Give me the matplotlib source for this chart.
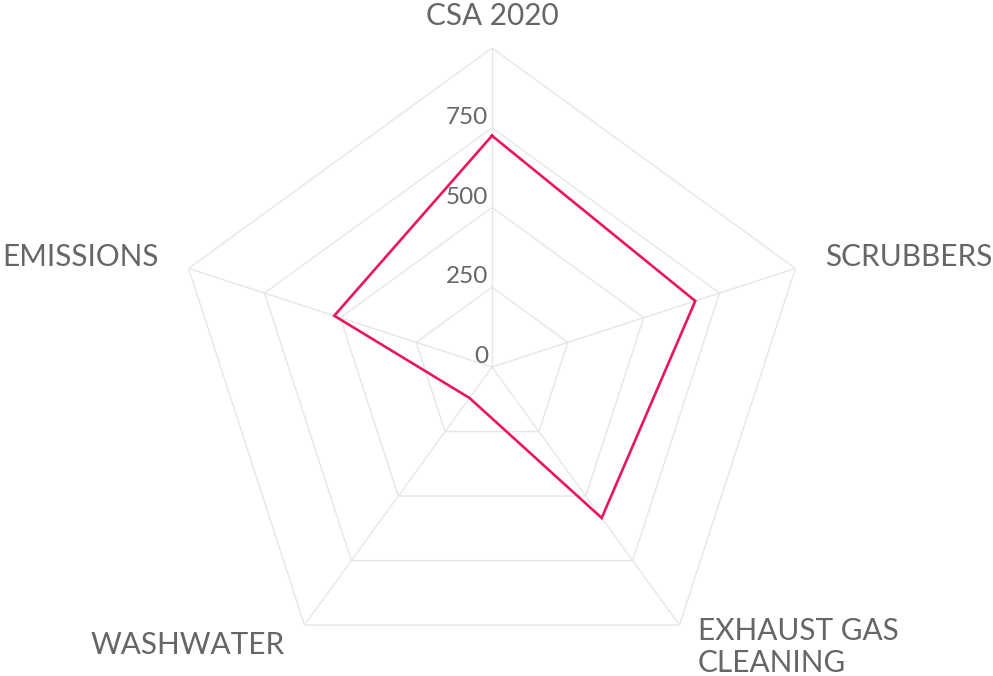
import numpy as np
import matplotlib
matplotlib.use("Agg")
import matplotlib.pyplot as plt

plt.rcParams["font.family"] = ["Lato", "DejaVu Sans"]

# ---- data ----
categories = ["CSA 2020", "SCRUBBERS", "EXHAUST GAS\nCLEANING", "WASHWATER", "EMISSIONS"]
values = [725, 670, 585, 120, 520]
ticks = [0, 250, 500, 750, 1000]
tick_labels = ["0", "250", "500", "750"]

GRID = "#e6e6e6"
LINE = "#e8175d"
TEXT = "#666666"

W, H = 993, 676
fig = plt.figure(figsize=(W / 100, H / 100), dpi=100)
cx, cy, R = 492, 367, 319
ax = fig.add_axes([(cx - R) / W, (H - cy - R) / H, 2 * R / W, 2 * R / H], projection="polar")
ax.set_theta_zero_location("N")
ax.set_theta_direction(-1)
ax.set_ylim(0, ticks[-1])
ax.axis("off")

n = len(categories)
theta = np.linspace(0, 2 * np.pi, n, endpoint=False)
closed = np.append(theta, theta[0])

# pentagon rings + spokes
for t in ticks[1:]:
    ax.plot(closed, [t] * (n + 1), color=GRID, lw=1.0, zorder=1)
for th in theta:
    ax.plot([th, th], [0, ticks[-1]], color=GRID, lw=1.0, zorder=1)

# data
ax.plot(closed, values + values[:1], color=LINE, lw=1.9, zorder=3, solid_joinstyle="miter")

# tick labels along the top spoke
for t, lab in zip(ticks, tick_labels):
    ax.annotate(lab, xy=(0, t), xytext=(-4, 4), textcoords="offset pixels",
                ha="right", va="baseline", fontsize=17.5, color=TEXT)

# category labels
offsets = [((0, 32), "center", "center"),
           ((30, 11), "left", "center"),
           ((18, 8), "left", "top"),
           ((-20, -20), "right", "center"),
           ((-30, 11), "right", "center")]
for th, lab, (off, ha, va) in zip(theta, categories, offsets):
    ax.annotate(lab, xy=(th, ticks[-1]), xytext=off, textcoords="offset pixels",
                ha=ha, va=va, fontsize=21.4, color=TEXT,
                linespacing=1.16, annotation_clip=False)

fig.savefig("out.png", dpi=100)
